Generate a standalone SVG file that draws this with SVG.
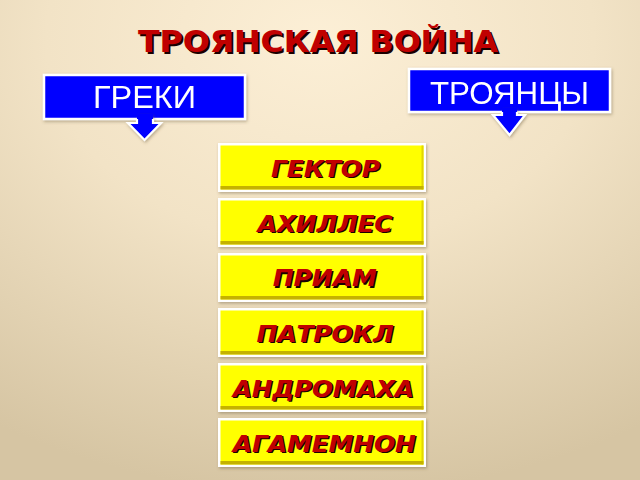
<svg xmlns="http://www.w3.org/2000/svg" width="640" height="480" viewBox="0 0 640 480">
  <defs>
    <radialGradient id="bg" cx="50%" cy="8%" r="95%" fx="50%" fy="8%">
      <stop offset="0" stop-color="#FCEFD6"/>
      <stop offset="0.45" stop-color="#F2E3C6"/>
      <stop offset="1" stop-color="#D6C5A3"/>
    </radialGradient>
    <filter id="sh" x="-10%" y="-20%" width="120%" height="150%">
      <feDropShadow dx="1" dy="1.5" stdDeviation="1.5" flood-color="#6b5a3a" flood-opacity="0.45"/>
    </filter>
    <style>
      .title { font-family: "DejaVu Sans", Verdana, sans-serif; font-weight: bold; font-size: 31px; }
      .hdr { font-family: "Liberation Sans", Arial, sans-serif; font-size: 31px; fill: #FFFFFF; text-anchor: middle; }
      .blue { fill: #0000FF; stroke: #FFFFFF; stroke-width: 2.5; }
      .outer { fill: #FFFFFF; }
      .yel { fill: #FFFF00; }
      .yb { fill: #C4B200; }
      .yr { fill: #E2D600; }
      .name { font-family: "DejaVu Sans", Verdana, sans-serif; font-weight: bold; font-style: italic; font-size: 23px; text-anchor: middle; }
      .red { fill: #C00000; }
      .shd { fill: #1A0000; }
    </style>
  </defs>

  <rect width="640" height="480" fill="url(#bg)"/>

  <g id="title">
    <text class="title shd" x="320" y="54" text-anchor="middle" textLength="360" lengthAdjust="spacingAndGlyphs">ТРОЯНСКАЯ ВОЙНА</text>
    <text class="title red" x="318" y="52" text-anchor="middle" textLength="360" lengthAdjust="spacingAndGlyphs">ТРОЯНСКАЯ ВОЙНА</text>
  </g>

  <g id="greki" filter="url(#sh)">
    <rect class="blue" x="44" y="75" width="201" height="44"/>
    <text class="hdr" x="144.5" y="108" textLength="103" lengthAdjust="spacingAndGlyphs">ГРЕКИ</text>
  </g>

  <g id="troyantsy" filter="url(#sh)">
    <rect class="blue" x="409" y="69" width="201" height="43"/>
    <text class="hdr" x="509.5" y="104" textLength="159" lengthAdjust="spacingAndGlyphs">ТРОЯНЦЫ</text>
  </g>

  <g id="connectors" filter="url(#sh)">
    <polygon points="137,114 153,114 153,123 161,123 144.5,140 128,123 137,123" fill="#0000FF"/>
    <polyline points="137,119 137,123 128,123 144.5,140 161,123 153,123 153,119" fill="none" stroke="#FFFFFF" stroke-width="2.2" stroke-linejoin="miter"/>
    <polygon points="502,108 517,108 517,115 525,115 509.5,135 493,115 502,115" fill="#0000FF"/>
    <polyline points="502,112 502,115 493,115 509.5,135 525,115 517,115 517,112" fill="none" stroke="#FFFFFF" stroke-width="2.2" stroke-linejoin="miter"/>
  </g>

  <g id="gektor" transform="translate(218,143)">
    <rect class="outer" width="208" height="49" filter="url(#sh)"/>
    <rect class="yel" x="2.5" y="2.5" width="203" height="44"/>
    <rect class="yr" x="203.5" y="2.5" width="2" height="44"/>
    <rect class="yb" x="2.5" y="43" width="203" height="3.5"/>
    <text class="name shd" x="109" y="35.2" textLength="109" lengthAdjust="spacingAndGlyphs">ГЕКТОР</text>
    <text class="name red" x="107.5" y="33.7" textLength="109" lengthAdjust="spacingAndGlyphs">ГЕКТОР</text>
  </g>

  <g id="akhilles" transform="translate(218,198)">
    <rect class="outer" width="208" height="49" filter="url(#sh)"/>
    <rect class="yel" x="2.5" y="2.5" width="203" height="44"/>
    <rect class="yr" x="203.5" y="2.5" width="2" height="44"/>
    <rect class="yb" x="2.5" y="43" width="203" height="3.5"/>
    <text class="name shd" x="108.5" y="35.2" textLength="135" lengthAdjust="spacingAndGlyphs">АХИЛЛЕС</text>
    <text class="name red" x="107" y="33.7" textLength="135" lengthAdjust="spacingAndGlyphs">АХИЛЛЕС</text>
  </g>

  <g id="priam" transform="translate(218,253)">
    <rect class="outer" width="208" height="49" filter="url(#sh)"/>
    <rect class="yel" x="2.5" y="2.5" width="203" height="44"/>
    <rect class="yr" x="203.5" y="2.5" width="2" height="44"/>
    <rect class="yb" x="2.5" y="43" width="203" height="3.5"/>
    <text class="name shd" x="108.2" y="34.5" textLength="104" lengthAdjust="spacingAndGlyphs">ПРИАМ</text>
    <text class="name red" x="106.7" y="33" textLength="104" lengthAdjust="spacingAndGlyphs">ПРИАМ</text>
  </g>

  <g id="patrokl" transform="translate(218,308)">
    <rect class="outer" width="208" height="49" filter="url(#sh)"/>
    <rect class="yel" x="2.5" y="2.5" width="203" height="44"/>
    <rect class="yr" x="203.5" y="2.5" width="2" height="44"/>
    <rect class="yb" x="2.5" y="43" width="203" height="3.5"/>
    <text class="name shd" x="108.5" y="35.2" textLength="137" lengthAdjust="spacingAndGlyphs">ПАТРОКЛ</text>
    <text class="name red" x="107" y="33.7" textLength="137" lengthAdjust="spacingAndGlyphs">ПАТРОКЛ</text>
  </g>

  <g id="andromakha" transform="translate(218,363)">
    <rect class="outer" width="208" height="49" filter="url(#sh)"/>
    <rect class="yel" x="2.5" y="2.5" width="203" height="44"/>
    <rect class="yr" x="203.5" y="2.5" width="2" height="44"/>
    <rect class="yb" x="2.5" y="43" width="203" height="3.5"/>
    <text class="name shd" x="106.8" y="35.2" textLength="181" lengthAdjust="spacingAndGlyphs">АНДРОМАХА</text>
    <text class="name red" x="105.3" y="33.7" textLength="181" lengthAdjust="spacingAndGlyphs">АНДРОМАХА</text>
  </g>

  <g id="agamemnon" transform="translate(218,418)">
    <rect class="outer" width="208" height="49" filter="url(#sh)"/>
    <rect class="yel" x="2.5" y="2.5" width="203" height="44"/>
    <rect class="yr" x="203.5" y="2.5" width="2" height="44"/>
    <rect class="yb" x="2.5" y="43" width="203" height="3.5"/>
    <text class="name shd" x="107.8" y="35.2" textLength="183" lengthAdjust="spacingAndGlyphs">АГАМЕМНОН</text>
    <text class="name red" x="106.3" y="33.7" textLength="183" lengthAdjust="spacingAndGlyphs">АГАМЕМНОН</text>
  </g>
</svg>
